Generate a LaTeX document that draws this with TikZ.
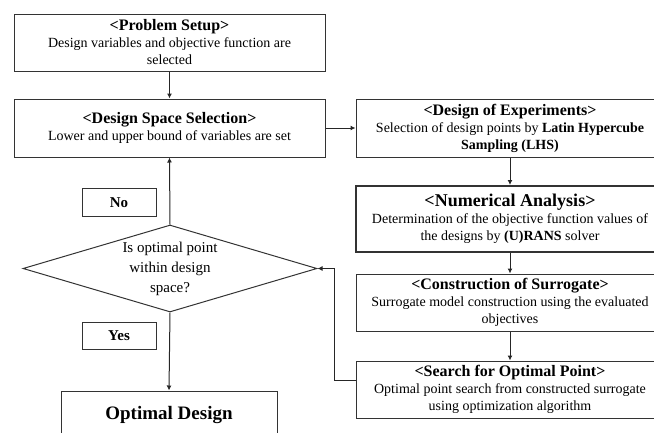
\documentclass[tikz,border=0pt]{standalone}
\usepackage{fontspec}
\setmainfont{Liberation Serif}
\usetikzlibrary{shapes.geometric,arrows.meta}
\newcommand\boxtitle[1]{{\fontsize{16}{19}\selectfont\bfseries #1}}

\begin{document}
\begin{tikzpicture}[x=1pt,y=-1pt,
  box/.style={draw=black!80,line width=1pt,align=center,inner sep=2pt,
    font=\fontsize{14}{17}\selectfont},
  lbl/.style={draw=black!80,line width=1pt,minimum width=74pt,minimum height=28pt,
    font=\fontsize{15}{18}\selectfont\bfseries},
  arr/.style={draw=black!85,line width=1pt,-{Latex[length=5pt,width=5pt]}}]
\useasboundingbox (0,0) rectangle (654,432);
\clip (0,0) rectangle (654,432);
\node[box,minimum width=311pt,minimum height=57pt] (setup) at (169.5,42.5)
  {\boxtitle{<Problem Setup>}\\Design variables and objective function are\\selected};
\node[box,minimum width=311pt,minimum height=58pt] (space) at (169.5,128)
  {\boxtitle{<Design Space Selection>}\\Lower and upper bound of variables are set};
\node[box,minimum width=308pt,minimum height=58pt] (doe) at (510,128)
  {\boxtitle{<Design of Experiments>}\\Selection of design points by \textbf{Latin Hypercube}\\\textbf{Sampling (LHS)}};
\node[box,line width=2pt,minimum width=308pt,minimum height=66pt] (cfd) at (510,219)
  {{\fontsize{18}{21}\selectfont\bfseries <Numerical Analysis>}\\Determination of the objective function values of\\the designs by \textbf{(U)RANS} solver};
\node[box,minimum width=308pt,minimum height=57pt] (surr) at (510,302.5)
  {\boxtitle{<Construction of Surrogate>}\\Surrogate model construction using the evaluated\\objectives};
\node[box,minimum width=308pt,minimum height=57pt] (search) at (510,389.5)
  {\boxtitle{<Search for Optimal Point>}\\Optimal point search from constructed surrogate\\using optimization algorithm};
\node[diamond,draw=black!80,line width=1pt,aspect=3.38,inner sep=0pt,
  minimum width=294pt,minimum height=87pt,align=center,
  font=\fontsize{15}{20}\selectfont] (check) at (170,268.5)
  {Is optimal point\\within design\\space?};
\node[lbl] (no) at (119,202.5) {No};
\node[lbl,minimum height=27pt] (yes) at (119,335.5) {Yes};
\node[box,minimum width=216pt,minimum height=48pt,
  font=\fontsize{19}{22}\selectfont\bfseries] (optimum) at (169,415) {Optimal Design};
\draw[arr] (setup) -- (space);
\draw[arr] (space) -- (doe);
\draw[arr] (doe) -- (cfd);
\draw[arr] (cfd) -- (surr);
\draw[arr] (surr) -- (search);
\draw[arr] ([yshift=9pt]search.west) -- ++(-21,0) |- (check.east);
\draw[arr] (check.north) -- (space.south);
\draw[arr] (check.south) -- (optimum.north);
\end{tikzpicture}
\end{document}
